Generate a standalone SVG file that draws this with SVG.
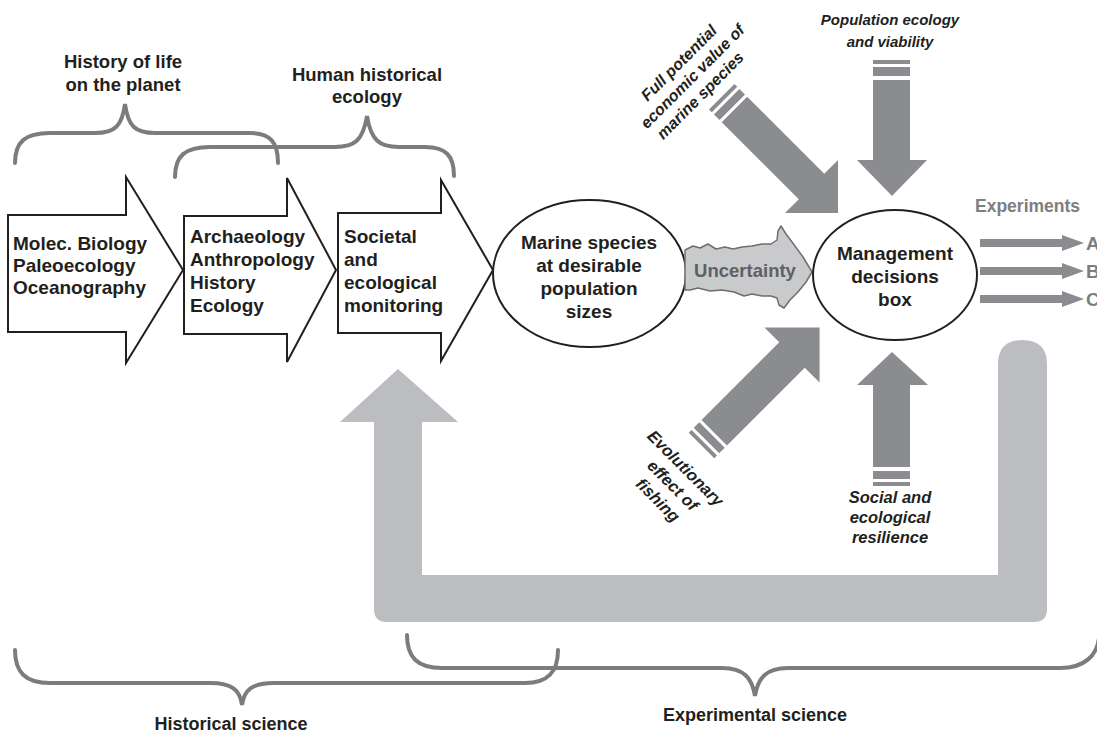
<svg xmlns="http://www.w3.org/2000/svg" width="1097" height="738" viewBox="0 0 1097 738">
<style>
.t{font-family:"Liberation Sans",Arial,sans-serif;font-weight:bold;fill:#231f20;}
.it{font-family:"Liberation Sans",Arial,sans-serif;font-weight:bold;font-style:italic;fill:#231f20;}
.mid{text-anchor:middle;}
.brace{fill:none;stroke:#7b7c7e;stroke-width:4;stroke-linecap:round;}
.chev{fill:#fff;stroke:#231f20;stroke-width:2;stroke-linejoin:miter;}
.node{fill:#fff;stroke:#231f20;stroke-width:2;}
.dk{fill:#8b8c8f;}
.lt{fill:#bcbdc0;}
</style>
<rect width="1097" height="738" fill="#fff"/>

<!-- braces -->
<g id="braces">
<path class="brace" d="M15,163 C15,142 25,133 50,133 L95,133 C115,133 122,126 125,104 C128,126 135,133 155,133 L250,133 C270,133 278,142 278,163"/>
<path class="brace" d="M175,177 C175,156 185,147 210,147 L335,147 C355,147 363,140 367,116 C371,140 379,147 399,147 L425,147 C446,147 454,156 454,176"/>
<path class="brace" d="M15,650 C15,672 25,683 50,683 L210,683 C232,683 240,690 242,705 C244,690 252,683 274,683 L525,683 C548,683 558,672 558,650"/>
<path class="brace" d="M407,635 C407,657 417,668 442,668 L722,668 C744,668 752,678 755,696 C758,678 766,668 788,668 L1060,668 C1085,668 1097,655 1099,638"/>
</g>
<g id="brace-labels">
<text class="t mid" x="123" y="68" font-size="18.5">History of life</text>
<text class="t mid" x="123" y="91" font-size="18.5">on the planet</text>
<text class="t mid" x="367" y="81" font-size="18.5">Human historical</text>
<text class="t mid" x="367" y="103" font-size="18.5">ecology</text>
<text class="t mid" x="231" y="730" font-size="18">Historical science</text>
<text class="t mid" x="755" y="721" font-size="18">Experimental science</text>
</g>

<!-- big feedback arrow -->
<g id="feedback">
<path class="lt" d="M374,422 L340,422 L398,369 L458,422 L422,422 L422,575 L998,575 L998,364 Q998,340 1022,340 Q1047,340 1047,364 L1047,609 Q1047,622 1034,622 L387,622 Q374,622 374,609 Z"/>
</g>

<!-- chevron arrows -->
<g id="node-molec">
<path class="chev" d="M8,215 L126,215 L126,177 L183,270 L126,363 L126,332 L8,332 Z"/>
<text class="t" x="13" y="250" font-size="19">Molec. Biology</text>
<text class="t" x="13" y="272" font-size="19">Paleoecology</text>
<text class="t" x="13" y="294" font-size="19">Oceanography</text>
</g>
<g id="node-arch">
<path class="chev" d="M184,216 L287,216 L287,178 L336,270 L287,362 L287,334 L184,334 Z"/>
<text class="t" x="190" y="243" font-size="19">Archaeology</text>
<text class="t" x="190" y="266" font-size="19">Anthropology</text>
<text class="t" x="190" y="289" font-size="19">History</text>
<text class="t" x="190" y="312" font-size="19">Ecology</text>
</g>
<g id="node-societal">
<path class="chev" d="M338,213 L441,213 L441,180 L493,270 L441,361 L441,333 L338,333 Z"/>
<text class="t" x="344" y="243" font-size="19">Societal</text>
<text class="t" x="344" y="266" font-size="19">and</text>
<text class="t" x="344" y="289" font-size="19">ecological</text>
<text class="t" x="344" y="312" font-size="19">monitoring</text>
</g>

<!-- marine species -->
<g id="node-marine">
<ellipse class="node" cx="589.5" cy="273.5" rx="96.5" ry="73.5"/>
<text class="t mid" x="589" y="249" font-size="19">Marine species</text>
<text class="t mid" x="589" y="272" font-size="19">at desirable</text>
<text class="t mid" x="589" y="295" font-size="19">population</text>
<text class="t mid" x="589" y="318" font-size="19">sizes</text>
</g>

<!-- uncertainty -->
<g id="node-uncertainty">
<path d="M685,250 L693,246 L700,248 L708,244 L716,249 L725,247 L733,249 L742,247 L752,246 L762,244 L771,244 L777,240 L778,231 L781,226 L786,234 L795,246 L803,257 L812,272 L806,282 L798,292 L790,300 L784,308 L779,305 L777,298 L771,296 L762,296 L752,294 L744,296 L734,292 L722,290 L710,291 L698,288 L690,290 L685,290 Z" fill="#c9cacc" stroke="#6d6e71" stroke-width="1.5" stroke-linejoin="round"/>
<text class="t mid" x="745" y="277" font-size="18.5" fill="#5f6062" style="fill:#5f6062">Uncertainty</text>
</g>

<!-- management -->
<g id="node-management">
<ellipse class="node" cx="895" cy="275" rx="82" ry="65"/>
<text class="t mid" x="895" y="260" font-size="19">Management</text>
<text class="t mid" x="895" y="283" font-size="19">decisions</text>
<text class="t mid" x="895" y="306" font-size="19">box</text>
</g>

<!-- input arrows -->
<g id="connectors">
<!-- Population ecology (down) -->
<g id="arrow-population">
<rect class="dk" x="873" y="60" width="37" height="4"/>
<rect class="dk" x="873" y="67" width="37" height="9"/>
<path class="dk" d="M873,80 L910,80 L910,160 L927,160 L892,196 L857,160 L873,160 Z"/>
</g>
<!-- Full potential (diagonal down-right) -->
<g id="arrow-economic" transform="translate(811.5,186.5) rotate(45)">
<rect class="dk" x="-127" y="-18" width="4" height="36"/>
<rect class="dk" x="-120" y="-18" width="8" height="36"/>
<path class="dk" d="M-109,-18 L0,-18 L0,-37.5 L37.5,0 L0,37.5 L0,18 L-109,18 Z"/>
</g>
<!-- Evolutionary (diagonal up-right) -->
<g id="arrow-evolution" transform="translate(792,355) rotate(-45)">
<rect class="dk" x="-128" y="-18" width="4" height="36"/>
<rect class="dk" x="-121" y="-18" width="8" height="36"/>
<path class="dk" d="M-110,-18 L0,-18 L0,-39 L39,0 L0,39 L0,18 L-110,18 Z"/>
</g>
<!-- Social resilience (up) -->
<g id="arrow-resilience">
<rect class="dk" x="873" y="482" width="37" height="4"/>
<rect class="dk" x="873" y="471" width="37" height="8"/>
<path class="dk" d="M873,467 L910,467 L910,385 L928,385 L892,352 L857,385 L873,385 Z"/>
</g>
<!-- Experiments arrows -->
<g id="arrow-experiments" fill="#8b8c8f">
<path d="M980,239 L1062,239 L1062,235 L1084,243 L1062,251 L1062,247 L980,247 Z"/>
<path d="M980,267 L1062,267 L1062,263 L1084,271 L1062,279 L1062,275 L980,275 Z"/>
<path d="M980,295 L1062,295 L1062,291 L1084,299 L1062,307 L1062,303 L980,303 Z"/>
</g>
</g>

<!-- labels for inputs -->
<g id="labels">
<text class="it mid" x="890" y="25" font-size="15">Population ecology</text>
<text class="it mid" x="890" y="47" font-size="15">and viability</text>
<g transform="translate(692,76) rotate(-45)">
<text class="it mid" x="0" y="-13" font-size="16">Full potential</text>
<text class="it mid" x="0" y="6" font-size="16">economic  value of</text>
<text class="it mid" x="-8" y="25" font-size="16">marine species</text>
</g>
<g transform="translate(673,485) rotate(45)">
<text class="it mid" x="-3" y="-15" font-size="16.5">Evolutionary</text>
<text class="it mid" x="0" y="6" font-size="16.5">effect of</text>
<text class="it mid" x="0" y="27" font-size="16.5">fishing</text>
</g>
<text class="it mid" x="890" y="503" font-size="16.5">Social and</text>
<text class="it mid" x="890" y="523" font-size="16.5">ecological</text>
<text class="it mid" x="890" y="543" font-size="16.5">resilience</text>
<text class="t" x="975" y="212" font-size="17.5" style="fill:#7d7e80">Experiments</text>
<text class="t" x="1086" y="250" font-size="19" style="fill:#7d7e80">A</text>
<text class="t" x="1086" y="278" font-size="19" style="fill:#7d7e80">B</text>
<text class="t" x="1086" y="306" font-size="19" style="fill:#7d7e80">C</text>
</g>
</svg>
